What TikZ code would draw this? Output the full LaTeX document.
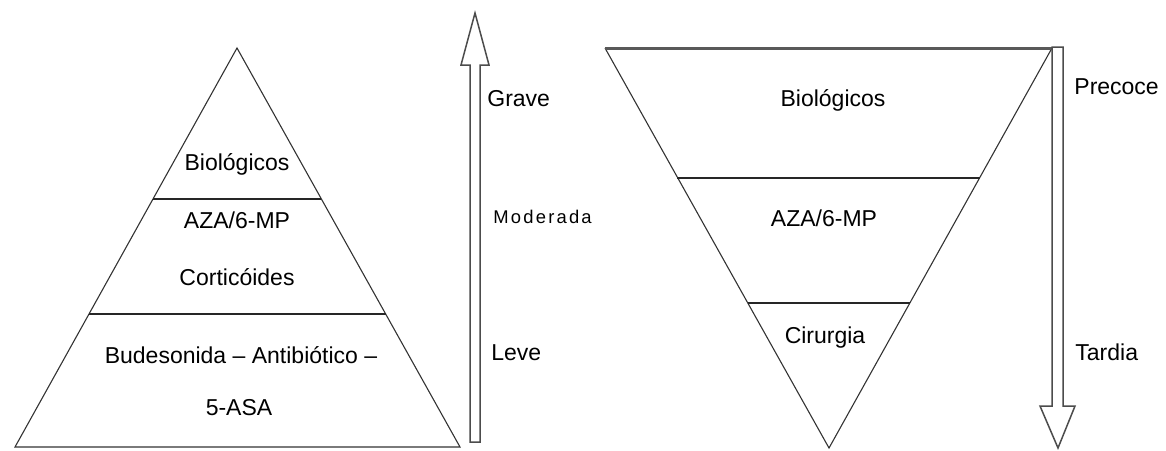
\documentclass[tikz,border=0pt]{standalone}
\usepackage{fontspec}
\setmainfont{Liberation Sans}
\newfontfamily\spacedfont[LetterSpace=12]{Liberation Sans}
\usetikzlibrary{positioning}
\tikzset{
  lvl/.style={font=\fontsize{11.5}{13}\selectfont, inner sep=0pt, anchor=base},
  tag/.style={font=\fontsize{11.5}{13}\selectfont, inner sep=0pt, anchor=base west},
  side/.style={draw=black!80, line width=0.55pt, line join=miter},
  cut/.style={draw=black!85, line width=1pt},
  blockarrow/.style={draw=black!70, line width=0.75pt, line join=miter, fill=white},
}

\begin{document}
\begin{tikzpicture}[x=0.5pt, y=-0.5pt]
\useasboundingbox (0,0) rectangle (1166,450);
% pyramid (left)
\coordinate (ptop) at (237,48);
\coordinate (pbl)  at (15,447);
\coordinate (pbr)  at (460,447);
\draw[side] (ptop) -- (pbr) -- (pbl) -- cycle;
\draw[cut] (153,199) -- (321,199);
\draw[cut] (89,314)  -- (386,314);
\node[lvl] (pbio)  at (237,170) {Biológicos};
\node[lvl] (paza)  at (237,228) {AZA/6-MP};
\node[lvl] (pcort) at (237,285) {Corticóides};
\node[lvl] (pbud)  at (241,363) {Budesonida \textendash{} Antibiótico \textendash};
\node[lvl] (pasa)  at (239,415) {5-ASA};
% severity arrow
\draw[blockarrow] (470,442) -- (480,442) -- (480,65) -- (489,65) -- (475,13)
  -- (461,65) -- (470,65) -- cycle;
\node[tag] (grave) at (487,106) {Grave};
\node[tag, font=\fontsize{9.2}{11}\spacedfont] (mod) at (493,223) {Moderada};
\node[tag] (leve)  at (491,360) {Leve};
% inverted pyramid (right)
\coordinate (itl) at (605,48);
\coordinate (itr) at (1052,48);
\coordinate (ibot) at (829,448);
\draw[side] (itl) -- (ibot) -- (itr);
\draw[draw=black!65, line width=1.5pt] (itl) -- (itr);
\draw[cut] (677,178) -- (980,178);
\draw[cut] (748,303) -- (910,303);
\node[lvl] (ibio) at (833,106) {Biológicos};
\node[lvl] (iaza) at (824,226) {AZA/6-MP};
\node[lvl] (icir) at (825,343) {Cirurgia};
% timing arrow
\draw[blockarrow] (1052,47) -- (1063,47) -- (1063,406) -- (1075,406) -- (1058,448)
  -- (1040,406) -- (1052,406) -- cycle;
\node[tag] (prec) at (1074,94)  {Precoce};
\node[tag] (tard) at (1075,360) {Tardia};
\end{tikzpicture}
\end{document}
